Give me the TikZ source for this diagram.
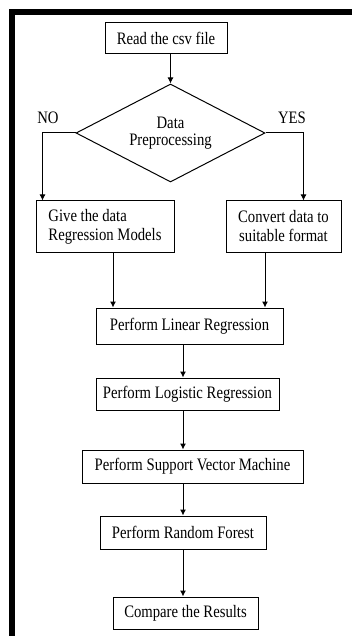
\documentclass[tikz,border=0pt]{standalone}
\usepackage{fontspec}
\setmainfont[FakeStretch=0.84]{Liberation Serif}
\usetikzlibrary{shapes.geometric, arrows.meta}

\tikzset{
    stepbox/.style={draw, line width=1pt, inner sep=0pt, font=\fontsize{17.5}{19}\selectfont},
    arr/.style={-{Latex[length=6pt,width=6pt]}, line width=1pt},
}

\begin{document}
\begin{tikzpicture}[x=1pt, y=-1pt]
    \useasboundingbox (0,0) rectangle (352,636);
    % outer frame, top and left only
    \fill (9,9) rectangle (352,15);
    \fill (9,9) rectangle (15,636);

    \node[stepbox, minimum width=122pt, minimum height=31pt] (read) at (166,38.5) {Read the csv file};
    \node[diamond, draw, line width=1pt, inner sep=0pt, aspect=1.93, minimum width=189pt, minimum height=98pt,
          align=center, font=\fontsize{17.5}{17.5}\selectfont] (prep) at (170.5,133) {Data\\Preprocessing};
    \node[stepbox, minimum width=138pt, minimum height=51pt, align=left] (give) at (105,226.5) {Give the data\\Regression Models};
    \node[stepbox, minimum width=115pt, minimum height=51pt, align=center] (conv) at (283.5,226.5) {Convert data to\\suitable format};
    \node[stepbox, minimum width=187pt, minimum height=36pt] (lin) at (189.5,326) {Perform Linear Regression};
    \node[stepbox, minimum width=183pt, minimum height=32pt] (log) at (187.5,394) {Perform Logistic Regression};
    \node[stepbox, minimum width=221pt, minimum height=33pt] (svm) at (192.5,466.5) {Perform Support Vector Machine};
    \node[stepbox, minimum width=166pt, minimum height=33pt] (forest) at (183,532.5) {Perform Random Forest};
    \node[stepbox, minimum width=145pt, minimum height=32pt] (comp) at (185.5,613) {Compare the Results};

    \node[font=\fontsize{17.5}{19}\selectfont] (no) at (48,118) {NO};
    \node[font=\fontsize{17.5}{19}\selectfont] (yes) at (292,118) {YES};

    \coordinate (spine) at (183,0);

    \draw[arr] (read.south -| prep.north) -- (prep.north);
    \draw[arr] (prep.west) -| ([xshift=7pt]give.north west);
    \draw[arr] (prep.east) -| ([xshift=-38pt]conv.north east);
    \draw[arr] ([xshift=8pt]give.south) -- ([xshift=8pt]give.south |- lin.north);
    \draw[arr] ([xshift=-18.5pt]conv.south) -- ([xshift=-18.5pt]conv.south |- lin.north);
    \draw[arr] (lin.south -| spine) -- (log.north -| spine);
    \draw[arr] (log.south -| spine) -- (svm.north -| spine);
    \draw[arr] (svm.south -| spine) -- (forest.north -| spine);
    \draw[arr] (forest.south -| spine) -- (comp.north -| spine);
\end{tikzpicture}
\end{document}
